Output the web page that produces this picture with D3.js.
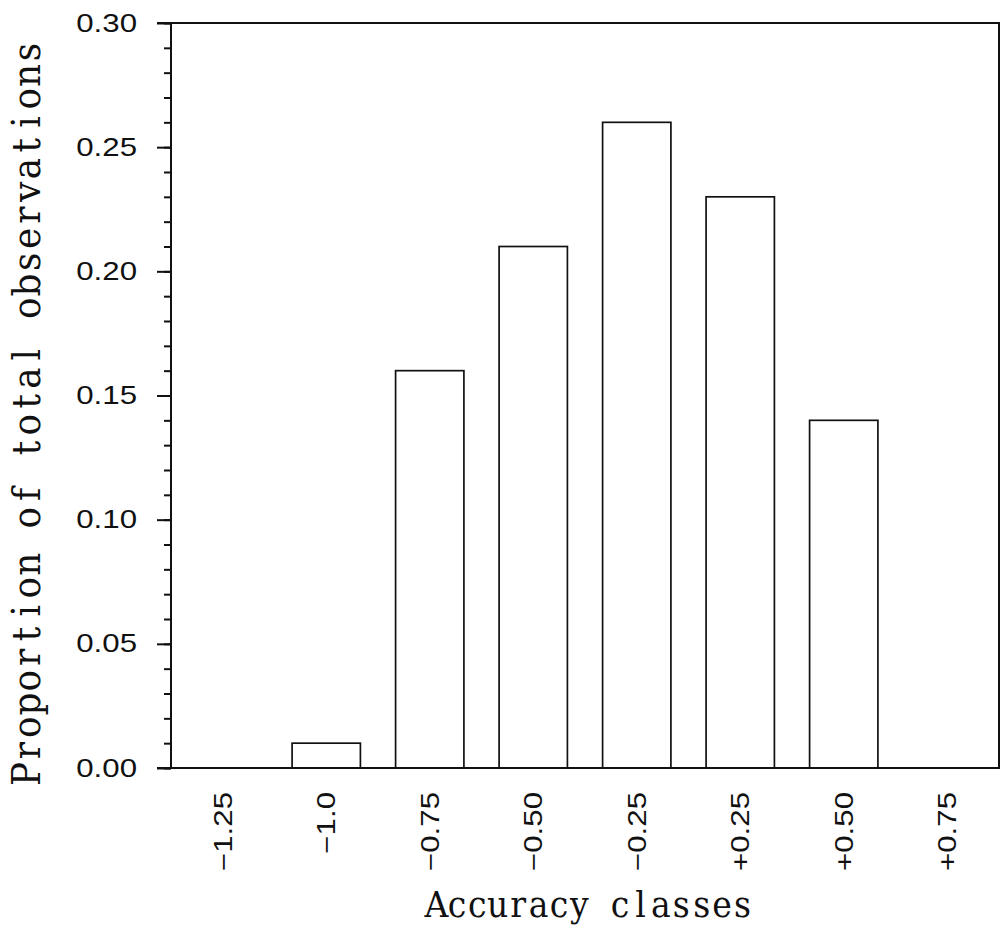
<!DOCTYPE html>
<html>
<head>
<meta charset="utf-8">
<script src="https://cdn.jsdelivr.net/npm/d3@7"></script>
<style>
  body { margin: 0; background: #fff; }
  svg { display: block; }
</style>
</head>
<body>
<svg id="chart" width="1000" height="926"></svg>
<script>
// Accuracy classes and the share of observations falling into each
const categories = ["−1.25", "−1.0", "−0.75", "−0.50", "−0.25", "+0.25", "+0.50", "+0.75"];
const proportions = [0.00, 0.01, 0.16, 0.21, 0.26, 0.23, 0.14, 0.00];
const yMajorTicks = [0.00, 0.05, 0.10, 0.15, 0.20, 0.25, 0.30];
const yMinorTicks = d3.range(0, 31).map(i => i / 100);

const svg = d3.select("#chart");
const plotLeft = 171, plotRight = 999, plotTop = 23, plotBottom = 768;

const x = d3.scaleBand().domain(categories).range([plotLeft, plotRight]).paddingInner(0.34).paddingOuter(0.17);
const y = d3.scaleLinear().domain([0, 0.30]).range([plotBottom, plotTop]);

const ink = "#111";
const tickFont = "'Liberation Sans', Arial, sans-serif";
const tickScale = 1.25;   // wide, plotter-style numerals
const titleFont = "'DejaVu Serif', serif";

// Bars
svg.append("g")
  .selectAll("rect")
  .data(categories.map((c, i) => ({ c, v: proportions[i] })).filter(d => d.v > 0))
  .join("rect")
  .attr("x", d => x(d.c))
  .attr("width", x.bandwidth())
  .attr("y", d => y(d.v))
  .attr("height", d => y(0) - y(d.v))
  .attr("fill", "#fff")
  .attr("stroke", ink)
  .attr("stroke-width", 1.7);

// Minor ticks on the y axis
svg.append("g")
  .attr("transform", `translate(${plotLeft},0)`)
  .call(d3.axisLeft(y).tickValues(yMinorTicks).tickSize(7).tickFormat(""))
  .call(g => g.select(".domain").remove())
  .call(g => g.selectAll("line").attr("stroke", ink).attr("stroke-width", 2));

// Major ticks and labels on the y axis
svg.append("g")
  .attr("transform", `translate(${plotLeft},0)`)
  .call(d3.axisLeft(y).tickValues(yMajorTicks).tickSize(14).tickPadding(20).tickFormat(d3.format(".2f")))
  .call(g => g.select(".domain").attr("stroke", ink).attr("stroke-width", 2).attr("d", `M0,${plotTop}V${plotBottom}`))
  .call(g => g.selectAll("line").attr("stroke", ink).attr("stroke-width", 2))
  .call(g => g.selectAll("text")
    .attr("transform", `scale(${tickScale},1)`)
    .attr("x", -34 / tickScale)
    .attr("font-family", tickFont)
    .attr("font-size", 25)
    .attr("fill", ink));

// Frame lines: baseline, top and right edge
svg.append("path")
  .attr("d", `M${plotLeft - 14},${plotBottom}H${plotRight}V${plotTop}H${plotLeft - 14}`)
  .attr("fill", "none")
  .attr("stroke", ink)
  .attr("stroke-width", 2);

// Category labels, rotated
const xAxis = svg.append("g")
  .attr("transform", `translate(0,${plotBottom})`)
  .call(d3.axisBottom(x).tickSize(0).tickPadding(0))
  .call(g => g.select(".domain").remove());
xAxis.selectAll(".tick text")
  .attr("transform", `rotate(-90) scale(${tickScale},1)`)
  .attr("x", -24 / tickScale)
  .attr("y", 0)
  .attr("dy", "0.36em")
  .attr("text-anchor", "end")
  .attr("font-family", tickFont)
  .attr("font-size", 25)
  .attr("fill", ink);

// Fixed-pitch serif lettering: every character sits in its own cell
function pitchText(str, advance, fontSize, squeeze, transform) {
  const n = str.length;
  const xs = Array.from(str, (_, i) => ((i + 0.5 - n / 2) * advance / squeeze).toFixed(2));
  return svg.append("text")
    .attr("transform", `${transform} scale(${squeeze},1)`)
    .attr("x", xs.join(" "))
    .attr("y", 0)
    .attr("text-anchor", "middle")
    .attr("font-family", titleFont)
    .attr("font-size", fontSize)
    .attr("fill", ink)
    .text(str);
}

// Axis titles
pitchText("Accuracy classes", 20.4, 36, 0.92, "translate(589.5,917)");
pitchText("Proportion of total observations", 23.28, 39, 0.92, "translate(40,413) rotate(-90)");
</script>
</body>
</html>
